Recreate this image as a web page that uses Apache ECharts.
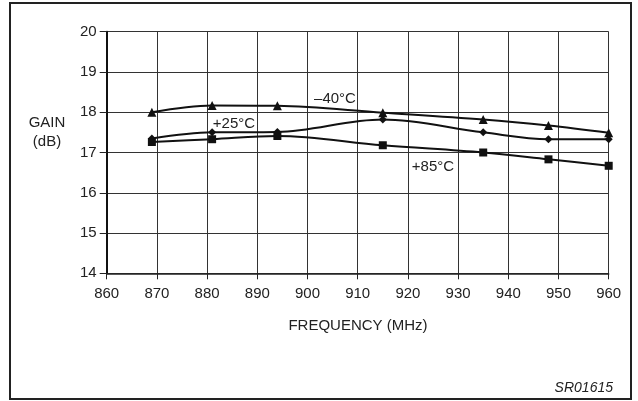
<!DOCTYPE html>
<html>
<head>
<meta charset="utf-8">
<script src="https://cdn.jsdelivr.net/npm/echarts@6/dist/echarts.min.js"></script>
<style>
html,body{margin:0;padding:0;background:#fff;}
#c{width:638px;height:401px;}
</style>
</head>
<body>
<div id="c"></div>
<script>
// Data
var freqs = [869, 881, 894, 915, 935, 948, 960];
var gainM40 = [18.00, 18.17, 18.16, 17.99, 17.82, 17.67, 17.49];
var gainP25 = [17.35, 17.50, 17.51, 17.82, 17.50, 17.33, 17.33];
var gainP85 = [17.26, 17.33, 17.41, 17.18, 17.00, 16.83, 16.67];
var xTicks = [860, 870, 880, 890, 900, 910, 920, 930, 940, 950, 960];
var yTicks = [14, 15, 16, 17, 18, 19, 20];
var seriesNames = ['\u201340\u00B0C', '+25\u00B0C', '+85\u00B0C'];

function pairs(xs, ys) { return xs.map(function (x, i) { return [x, ys[i]]; }); }

var FONT = 'Liberation Sans, Arial, Helvetica, sans-serif';
var chart = echarts.init(document.getElementById('c'), null, {renderer: 'canvas'});

function lineSeries(name, data, symbol, size) {
  return {
    name: name, type: 'line', data: data, smooth: 0.35,
    symbol: symbol, symbolSize: size,
    itemStyle: {color: '#111'},
    lineStyle: {color: '#111', width: 2},
    animation: false, z: 5
  };
}

chart.setOption({
  backgroundColor: '#fff',
  animation: false,
  grid: {left: 106.7, right: 29.3, top: 31.7, bottom: 127.7, show: false},
  xAxis: {
    type: 'value', min: xTicks[0], max: xTicks[xTicks.length - 1], interval: 10,
    axisLine: {show: true, lineStyle: {color: '#222', width: 1.5}},
    axisTick: {show: true, length: 6, lineStyle: {color: '#222', width: 1}},
    axisLabel: {margin: 13, fontFamily: FONT, fontSize: 15, color: '#222'},
    splitLine: {show: true, lineStyle: {color: '#333', width: 1}}
  },
  yAxis: {
    type: 'value', min: yTicks[0], max: yTicks[yTicks.length - 1], interval: 1,
    axisLine: {show: true, lineStyle: {color: '#111', width: 2}},
    axisTick: {show: true, length: 7, lineStyle: {color: '#222', width: 1}},
    axisLabel: {margin: 10, fontFamily: FONT, fontSize: 15, color: '#222'},
    splitLine: {show: true, lineStyle: {color: '#333', width: 1}}
  },
  series: [
    lineSeries(seriesNames[0], pairs(freqs, gainM40), 'triangle', 9),
    lineSeries(seriesNames[1], pairs(freqs, gainP25), 'diamond', 8),
    lineSeries(seriesNames[2], pairs(freqs, gainP85), 'rect', 8)
  ],
  graphic: [
    {type: 'rect', shape: {x: 10, y: 3, width: 621, height: 396},
     style: {fill: 'none', stroke: '#222', lineWidth: 2}, z: 100},
    {type: 'text', x: 47, y: 123, style: {text: 'GAIN', font: '15px ' + FONT, fill: '#222', textAlign: 'center', textVerticalAlign: 'middle'}},
    {type: 'text', x: 47, y: 141.5, style: {text: '(dB)', font: '15px ' + FONT, fill: '#222', textAlign: 'center', textVerticalAlign: 'middle'}},
    {type: 'text', x: 358, y: 326, style: {text: 'FREQUENCY (MHz)', font: '15px ' + FONT, fill: '#222', textAlign: 'center', textVerticalAlign: 'middle'}},
    {type: 'text', x: 335, y: 99, style: {text: seriesNames[0], font: '15px ' + FONT, fill: '#222', textAlign: 'center', textVerticalAlign: 'middle'}, z: 10},
    {type: 'text', x: 234, y: 123.5, style: {text: seriesNames[1], font: '15px ' + FONT, fill: '#222', textAlign: 'center', textVerticalAlign: 'middle'}, z: 10},
    {type: 'text', x: 433, y: 167, style: {text: seriesNames[2], font: '15px ' + FONT, fill: '#222', textAlign: 'center', textVerticalAlign: 'middle'}, z: 10},
    {type: 'text', x: 613, y: 388, style: {text: 'SR01615', font: 'italic 14px ' + FONT, fill: '#222', textAlign: 'right', textVerticalAlign: 'middle'}}
  ]
});
</script>
</body>
</html>
